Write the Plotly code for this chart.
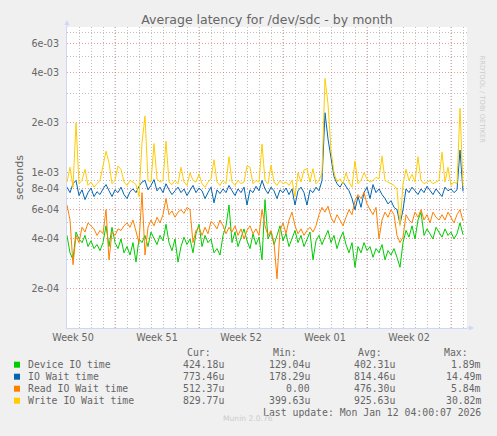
import math
import pandas as pd
import plotly.graph_objects as go

# canvas + plot area, in px
W, H = 497, 436
L, R, T, B = 67, 467, 27, 328

# 6-hourly samples, values in microseconds
times = pd.date_range("2025-12-11 00:00", periods=133, freq="6h")

device_us = [
    420, 330, 300, 440, 400, 380, 420, 360, 390, 350, 370,
    340, 380, 480, 360, 470, 380, 350, 400, 330, 360, 320,
    380, 290, 400, 380, 420, 360, 440, 400, 370, 420, 390,
    490, 380, 340, 400, 290, 360, 410, 370, 400, 330, 430,
    490, 360, 420, 380, 400, 330, 350, 320, 420, 480, 640,
    380, 440, 360, 410, 460, 390, 350, 430, 370, 410, 300,
    690, 400, 440, 370, 420, 480, 390, 430, 360, 400, 450,
    380, 420, 360, 400, 440, 300, 390, 420, 370, 410, 450,
    380, 420, 350, 400, 440, 370, 330, 380, 270, 360, 330,
    380, 340, 360, 310, 350, 330, 370, 300, 340, 320, 350,
    310, 270, 380, 450, 410, 480, 400, 520, 580, 420, 460,
    430, 400, 470, 440, 410, 460, 420, 440, 400, 430, 500,
    424,
]
iowait_us = [
    820, 760, 860, 900, 730, 790, 690, 760, 810, 720, 770,
    740, 800, 850, 780, 720, 790, 760, 820, 740, 700, 770,
    800, 760, 830, 880, 900, 790, 840, 910, 780, 820, 760,
    860, 790, 740, 780, 820, 760, 800, 730, 790, 840, 760,
    810, 780, 700, 760, 820, 660, 790, 750, 800, 760, 840,
    780, 730, 800, 760, 820, 640, 790, 760, 830, 780, 900,
    800, 750, 820, 780, 700, 790, 760, 810, 740, 800, 640,
    780, 820, 760, 640, 790, 760, 820, 780, 900, 2300, 1600,
    1200, 950, 860, 820, 880, 830, 780, 700, 600, 720, 620,
    760, 820, 700, 850, 760, 800, 740, 700, 650, 680, 620,
    600, 490, 600, 800, 760, 820, 780, 740, 800, 760, 830,
    780, 740, 800, 760, 720, 820, 780, 800, 760, 790, 1370,
    773,
]
read_us = [
    640, 520, 280, 420, 380, 470, 440, 500, 480, 460, 420,
    450, 430, 600, 300, 440, 420, 460, 450, 480, 500, 470,
    520, 450, 380, 760, 320, 470, 520, 480, 540, 500, 560,
    700, 560, 590, 540, 580, 600, 570, 620, 600, 380, 450,
    470, 420, 470, 430, 510, 490, 460, 520, 480, 430, 470,
    440, 480, 420, 460, 400, 450, 480, 430, 460, 420, 600,
    480, 420, 450, 380, 230, 450, 500, 430, 520, 580, 480,
    430, 460, 420, 450, 470, 440, 480, 560, 620, 580, 630,
    540, 500, 560, 520, 480, 540, 600, 560, 680, 740, 700,
    760, 650, 600, 560, 620, 400, 520, 580, 540, 600, 560,
    420, 380, 410, 560, 520, 500, 580, 540, 600, 520, 560,
    500, 580, 540, 520, 560, 520, 580, 540, 500, 560, 600,
    512,
]
write_us = [
    880, 1080, 820, 2000, 860, 900, 1050, 840, 880, 820, 860,
    900, 1100, 1350, 1150, 860, 900, 1100, 1050, 880, 840, 900,
    880, 850, 720, 1520, 2200, 900, 880, 1500, 920, 880, 900,
    1550, 880, 850, 900, 860, 1080, 880, 840, 1000, 900, 880,
    980, 860, 820, 880, 920, 1200, 880, 840, 900, 860, 1250,
    880, 840, 900, 860, 880, 1100, 1080, 860, 900, 880, 1490,
    900, 860, 1110, 880, 840, 900, 860, 880, 840, 900, 720,
    1000, 880, 1040, 1060, 880, 1060, 860, 900, 1000, 3700, 2600,
    1370, 1000, 880, 920, 860, 1000, 880, 820, 1180, 860, 900,
    1000, 920, 880, 900, 940, 920, 1260, 900, 880, 860, 840,
    800, 480, 860, 1050, 900, 980, 880, 1250, 900, 860, 880,
    900, 860, 880, 900, 1330, 880, 1080, 840, 880, 860, 2450,
    830,
]

names = ["Device IO time", "IO Wait time", "Read IO Wait time", "Write IO Wait time"]
colors = ["#00CC00", "#0066B3", "#FF8000", "#FFCC00"]
cur_txt = ["424.18u", "773.46u", "512.37u", "829.77u"]
min_txt = ["129.04u", "178.29u", "0.00", "399.63u"]
avg_txt = ["402.31u", "814.46u", "476.30u", "925.63u"]
max_txt = ["1.89m", "14.49m", "5.84m", "30.82m"]

week_starts = ["2025-12-15", "2025-12-22", "2025-12-29", "2026-01-05", "2026-01-12"]
week_mid = ["2025-12-11 12:00", "2025-12-18 12:00", "2025-12-25 12:00",
            "2026-01-01 12:00", "2026-01-08 12:00"]
week_labels = ["Week 50", "Week 51", "Week 52", "Week 01", "Week 02"]

y_major = [2e-4, 4e-4, 6e-4, 8e-4, 1e-3, 2e-3, 4e-3, 6e-3]
y_major_txt = ["2e-04", "4e-04", "6e-04", "8e-04", "1e-03", "2e-03", "4e-03", "6e-03"]
y_minor = [3e-4, 5e-4, 7e-4, 9e-4, 3e-3, 5e-3, 7e-3]

FONT = "DejaVu Sans"
MONO = "DejaVu Sans Mono"
TXT = "#666666"
AXIS = "#CFD6F8"
GRID = "rgba(170,170,170,0.75)"
MGRID = "rgba(225,90,90,0.6)"


def px(x):
    return (x - L) / (R - L)


def py(y):
    return (B - y) / (B - T)


fig = go.Figure()
for vals, name, col in zip([device_us, iowait_us, read_us, write_us], names, colors):
    fig.add_trace(go.Scatter(
        x=times, y=[v * 1e-6 for v in vals], name=name, mode="lines",
        line=dict(color=col, width=1), showlegend=False,
    ))

# weekly (red) grid lines
for d in week_starts:
    fig.add_shape(type="line", xref="x", yref="paper", x0=d, x1=d, y0=0, y1=1,
                  line=dict(color=MGRID, width=1, dash="1px,2px"), layer="below")

anns = []
# legend block
anns.append(dict(text="Cur:", x=px(213), y=py(352), xanchor="right"))
anns.append(dict(text="Min:", x=px(298.5), y=py(352), xanchor="right"))
anns.append(dict(text="Avg:", x=px(383.5), y=py(352), xanchor="right"))
anns.append(dict(text="Max:", x=px(470), y=py(352), xanchor="right"))
for i, name in enumerate(names):
    yy = py(364.5 + 12 * i)
    anns.append(dict(text=name, x=px(26), y=yy, xanchor="left"))
    anns.append(dict(text=cur_txt[i], x=px(226), y=yy, xanchor="right"))
    anns.append(dict(text=min_txt[i], x=px(311.5), y=yy, xanchor="right"))
    anns.append(dict(text=avg_txt[i], x=px(397), y=yy, xanchor="right"))
    anns.append(dict(text=max_txt[i], x=px(483), y=yy, xanchor="right"))
    fig.add_shape(type="rect", xref="paper", yref="paper",
                  x0=px(14), x1=px(20), y0=py(367.7 + 12 * i), y1=py(361.7 + 12 * i),
                  fillcolor=colors[i], line=dict(width=0))
anns.append(dict(text="Last update: Mon Jan 12 04:00:07 2026", x=px(483), y=py(412),
                 xanchor="right"))
for a in anns:
    a.update(xref="paper", yref="paper", yanchor="middle", showarrow=False,
             font=dict(family=MONO, size=9.8, color=TXT))

anns.append(dict(text="Munin 2.0.76", x=px(248), y=py(424.5), xref="paper", yref="paper",
                 showarrow=False, font=dict(family=FONT, size=7.6, color="#CCCCCC")))
anns.append(dict(text="RRDTOOL / TOBI OETIKER", x=px(487.5), y=py(53), xref="paper",
                 yref="paper", textangle=90, showarrow=False,
                 font=dict(family=FONT, size=6.8, color="#CCCCCC")))
anns.append(dict(text="seconds", x=px(11), y=py(177.5), xref="paper", yref="paper",
                 textangle=-90, showarrow=False, font=dict(family=FONT, size=11, color=TXT)))
# axis arrows
anns.append(dict(text="", x=px(67), y=py(20), xref="paper", yref="paper", ax=0, ay=9,
                 showarrow=True, arrowhead=2, arrowsize=1, arrowwidth=1, arrowcolor=AXIS))
anns.append(dict(text="", x=px(474), y=py(328), xref="paper", yref="paper", ax=-9, ay=0,
                 showarrow=True, arrowhead=2, arrowsize=1, arrowwidth=1, arrowcolor=AXIS))

fig.update_layout(
    width=W, height=H,
    margin=dict(l=L, r=W - R, t=T, b=H - B, pad=0),
    paper_bgcolor="#F0F0F0", plot_bgcolor="#FFFFFF",
    title=dict(text="Average latency for /dev/sdc - by month", x=0.5, xref="paper",
               xanchor="center", y=1 - 19.5 / H, yanchor="middle",
               font=dict(family=FONT, size=12.5, color=TXT)),
    annotations=anns,
    xaxis=dict(
        type="date", range=["2025-12-11 00:00", "2026-01-13 08:00"],
        tickmode="array", tickvals=week_mid, ticktext=week_labels,
        showgrid=False, ticks="", zeroline=False, automargin=False,
        showline=True, linecolor=AXIS, linewidth=1,
        tickfont=dict(family=FONT, size=9.6, color=TXT),
        minor=dict(dtick=86400000, tick0="2025-12-11", showgrid=True,
                   gridcolor=GRID, griddash="1px,2px", gridwidth=1),
    ),
    yaxis=dict(
        type="log", range=[math.log10(1.164e-4), math.log10(7.55e-3)],
        tickmode="array", tickvals=y_major, ticktext=y_major_txt,
        showgrid=True, gridcolor=MGRID, griddash="1px,2px", gridwidth=1,
        ticks="", zeroline=False, ticklabelstandoff=5, automargin=False,
        showline=True, linecolor=AXIS, linewidth=1,
        tickfont=dict(family=FONT, size=9.6, color=TXT),
        minor=dict(tickvals=y_minor, showgrid=True, gridcolor=GRID,
                   griddash="1px,2px", gridwidth=1),
    ),
)

# drop the browser's default body margin so the figure sits at the page origin
fig.write_html("out.html", config={"displayModeBar": False},
               post_script="document.body.style.margin='0px';")
